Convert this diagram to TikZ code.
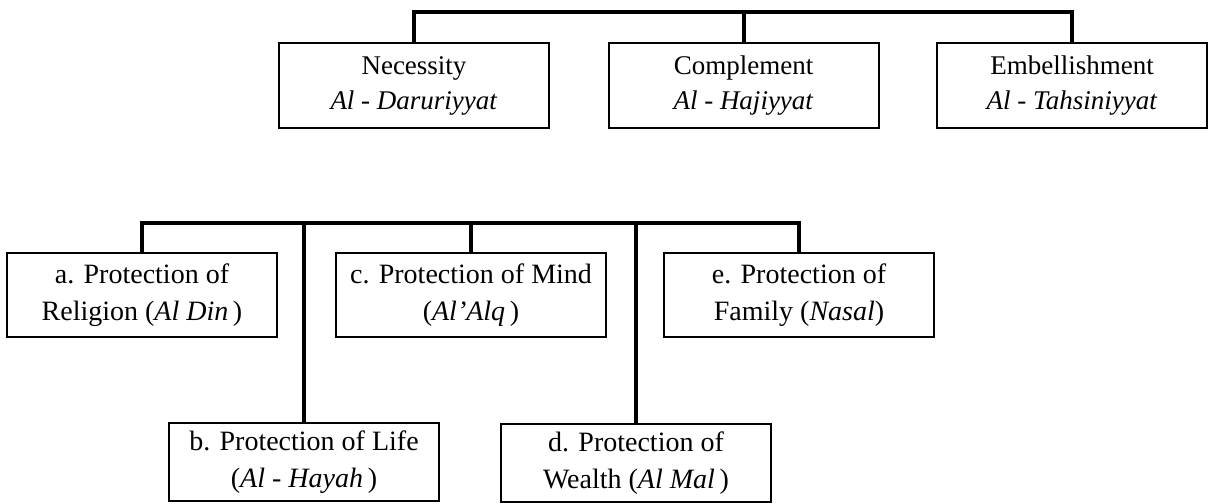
\documentclass[tikz,border=0pt]{standalone}
\usepackage{fontspec}
\setmainfont{Liberation Serif}
\begin{document}
\begin{tikzpicture}[x=1pt,y=-1pt,
  topbox/.style={draw, line width=2pt, inner sep=0pt, minimum width=270pt, minimum height=85pt, align=center, font=\fontsize{27}{35}\selectfont},
  botbox/.style={draw, line width=2pt, inner sep=0pt, minimum width=270pt, minimum height=84pt, align=center, font=\fontsize{28}{37}\selectfont},
  lowbox/.style={botbox, minimum height=78pt},
  bar/.style={line width=4pt}]
\useasboundingbox (0,0) rectangle (1212,503);
% top row
\node[topbox] (nec)  at (414,85.5)   {Necessity\\\textit{Al - Daruriyyat}};
\node[topbox] (comp) at (743.5,85.5) {Complement\\\textit{Al - Hajiyyat}};
\node[topbox] (emb)  at (1072,85.5)  {Embellishment\\\textit{Al - Tahsiniyyat}};
\coordinate (tb) at (0,12);
\draw[bar] (nec.north) -- (nec.north |- tb) -- (emb.north |- tb) -- (emb.north);
\draw[bar] (comp.north) -- (comp.north |- tb);
% bottom rows
\node[botbox] (a) at (142,295) {a. Protection of\\Religion (\textit{Al Din}\,)};
\node[botbox] (c) at (471,295) {c. Protection of Mind\\(\textit{Al{\char"0027}Alq}\,)};
\node[botbox] (e) at (799,295) {e. Protection of\\Family (\textit{Nasal})};
\node[lowbox] (b) at (304,462) {b. Protection of Life\\(\textit{Al - Hayah}\,)};
\node[lowbox] (d) at (636,463) {d. Protection of\\Wealth (\textit{Al Mal}\,)};
\coordinate (bb) at (0,223);
\draw[bar] (a.north) -- (a.north |- bb) -- (e.north |- bb) -- (e.north);
\draw[bar] (b.north) -- (b.north |- bb);
\draw[bar] (c.north) -- (c.north |- bb);
\draw[bar] (d.north) -- (d.north |- bb);
\end{tikzpicture}
\end{document}
